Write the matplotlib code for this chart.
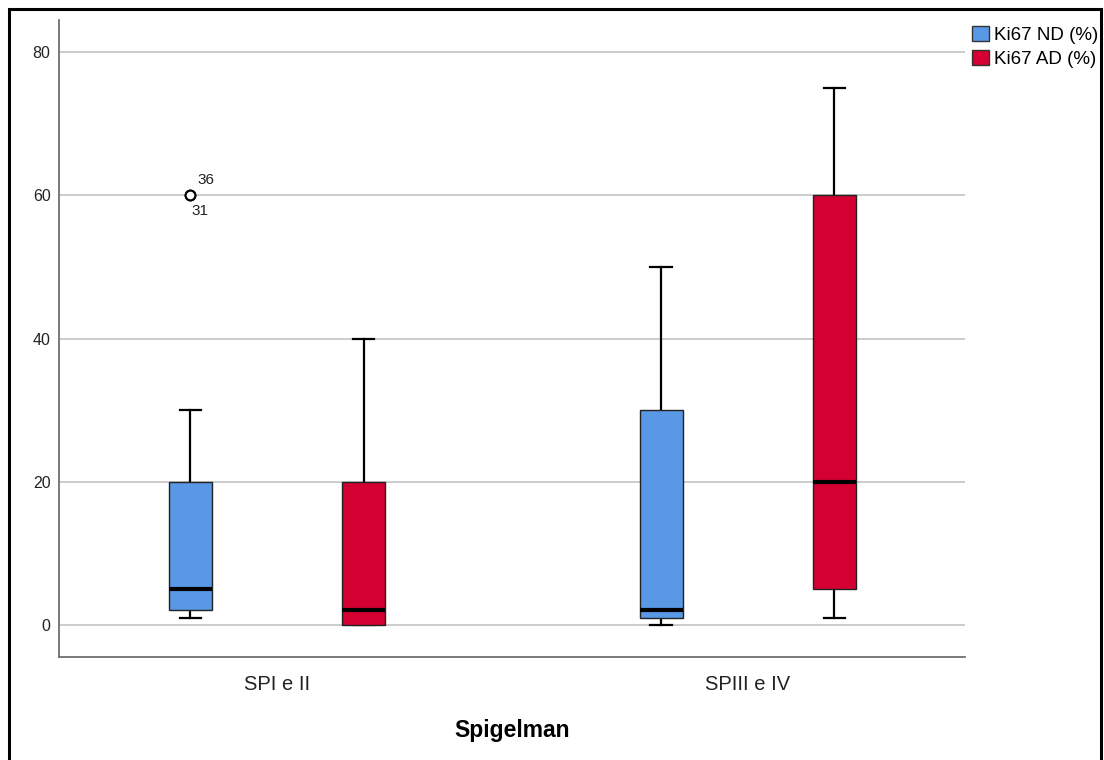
import matplotlib
matplotlib.use("Agg")
import matplotlib.pyplot as plt
from matplotlib.patches import Rectangle, Patch

groups = ["SPI e II", "SPIII e IV"]
series = ["Ki67 ND (%)", "Ki67 AD (%)"]
colors = ["#5898E5", "#D50032"]

# five-number summaries: whislo, q1, med, q3, whishi
nd_stats = [(1, 2, 5, 20, 30), (0, 1, 2, 30, 50)]
ad_stats = [(0, 0, 2, 20, 40), (1, 5, 20, 60, 75)]
nd_fliers = [[60, 60], []]
ad_fliers = [[], []]
flier_ids = ["36", "31"]

plt.rcParams['font.family'] = ['Liberation Sans', 'DejaVu Sans']

fig = plt.figure(figsize=(11.04, 7.6), dpi=100)
ax = fig.add_axes([0.0534, 0.1355, 0.8206, 0.8382])

offset = 0.184
width = 0.091
for k, (stats, fliers) in enumerate([(nd_stats, nd_fliers), (ad_stats, ad_fliers)]):
    bx = []
    for s, f in zip(stats, fliers):
        bx.append(dict(whislo=s[0], q1=s[1], med=s[2], q3=s[3], whishi=s[4], fliers=f))
    pos = [i + (offset if k else -offset) for i in range(len(groups))]
    res = ax.bxp(bx, positions=pos, widths=width, patch_artist=True,
                 capwidths=width * 0.5, manage_ticks=False,
                 boxprops=dict(facecolor=colors[k], edgecolor="#222222", linewidth=1),
                 medianprops=dict(color="black", linewidth=3),
                 whiskerprops=dict(color="black", linewidth=1.6),
                 capprops=dict(color="black", linewidth=1.6),
                 flierprops=dict(marker="o", markerfacecolor="white",
                                 markeredgecolor="black", markersize=7,
                                 markeredgewidth=1.5))
    for b in res["boxes"]:
        b.set_zorder(3)
    for m in res["medians"]:
        m.set_zorder(4)

# outlier case labels
fx = -offset
ax.annotate(flier_ids[0], (fx, nd_fliers[0][0]), xytext=(5, 11), textcoords="offset points",
            fontsize=11, ha="left", va="center", color="#222222")
ax.annotate(flier_ids[1], (fx, nd_fliers[0][1]), xytext=(1, -11), textcoords="offset points",
            fontsize=11, ha="left", va="center", color="#222222")

ax.set_xlim(-0.463, 1.461)
ax.set_ylim(-4.5, 84.5)
ax.set_yticks([0, 20, 40, 60, 80])
ax.set_xticks(range(len(groups)))
ax.set_xticklabels(groups, fontsize=14.5, color="#222222")
ax.tick_params(axis="y", length=0, pad=6, labelsize=11.5, labelcolor="#222222")
ax.tick_params(axis="x", length=0, pad=13)
ax.grid(axis="y", color="#c8c8c8", linewidth=1.3)
ax.set_axisbelow(True)
for side in ["top", "right"]:
    ax.spines[side].set_visible(False)
ax.spines["left"].set_color("#707070")
ax.spines["bottom"].set_color("#707070")
ax.spines["left"].set_linewidth(1.3)
ax.spines["bottom"].set_linewidth(1.3)

ax.set_xlabel("Spigelman", fontsize=16.5, fontweight="bold", labelpad=18)

handles = [Patch(facecolor=c, edgecolor="#333333", label=s) for c, s in zip(colors, series)]
fig.legend(handles=handles, loc="upper left", bbox_to_anchor=(0.874, 0.976),
           frameon=False, fontsize=13.5, handlelength=0.9, handleheight=0.9,
           handletextpad=0.25, labelspacing=0.3, borderaxespad=0)

# outer frame of the exported chart
fig.patches.append(Rectangle((0.0085, -0.05), 0.989, 1.038, transform=fig.transFigure,
                             fill=False, edgecolor="black", linewidth=2.2))

fig.savefig("out.png", dpi=100)
